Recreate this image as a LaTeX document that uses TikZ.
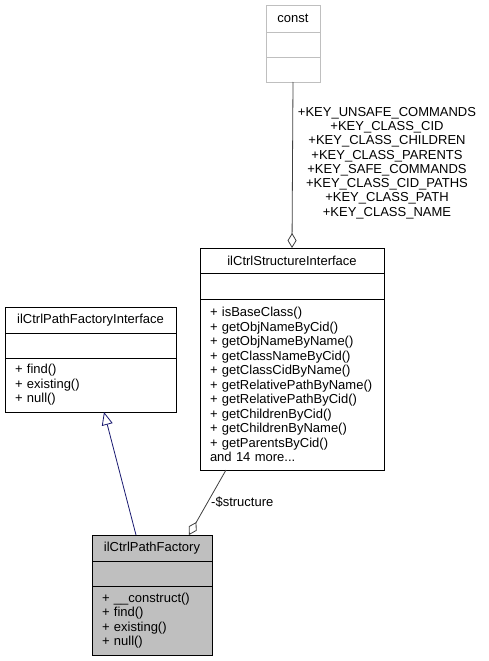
\documentclass[tikz,border=0pt]{standalone}
\usepackage{fontspec}
\setmainfont{Liberation Sans}
\usetikzlibrary{arrows.meta}
\definecolor{edgegray}{HTML}{404040}
\definecolor{boxgray}{HTML}{BFBFBF}
\definecolor{inhblue}{HTML}{191970}
\begin{document}
\begin{tikzpicture}[x=1pt,y=-1pt,
  every node/.style={font=\fontsize{13}{14.5}\selectfont, inner sep=0pt},
  comp/.style={draw, line width=0.8pt, anchor=north west, minimum width=#1, outer sep=0pt},
  ttl/.style={align=center},
  mem/.style={align=left, inner xsep=10pt, text width=#1},
  agg/.style={draw=edgegray, line width=0.8pt, -{Diamond[open,length=15pt,width=9pt]}},
  inh/.style={draw=inhblue, line width=0.8pt, -{Triangle[open,length=13pt,width=11pt]}},
  lbl/.style={align=center, fill=none}
]
\useasboundingbox (0,0) rectangle (488,661);
% const
\node[comp=54pt, draw=boxgray, minimum height=27pt] (cT) at (266,5) {const};
\node[comp=54pt, draw=boxgray, minimum height=25pt] (cA) at (266,32) {};
\node[comp=54pt, draw=boxgray, minimum height=25pt] (cM) at (266,57) {};
% ilCtrlStructureInterface
\node[comp=184pt, minimum height=25pt] (sT) at (200,248) {ilCtrlStructureInterface};
\node[comp=184pt, minimum height=26pt] (sA) at (200,273) {};
\node[comp=184pt, minimum height=171pt, mem=164pt] (sM) at (200,299) {+ isBaseClass()\\+ getObjNameByCid()\\+ getObjNameByName()\\+ getClassNameByCid()\\+ getClassCidByName()\\+ getRelativePathByName()\\+ getRelativePathByCid()\\+ getChildrenByCid()\\+ getChildrenByName()\\+ getParentsByCid()\\and 14 more...};
% ilCtrlPathFactoryInterface
\node[comp=171pt, minimum height=26pt] (pfiT) at (5,307) {ilCtrlPathFactoryInterface};
\node[comp=171pt, minimum height=25pt] (pfiA) at (5,333) {};
\node[comp=171pt, minimum height=54pt, mem=151pt] (pfiM) at (5,358) {+ find()\\+ existing()\\+ null()};
% ilCtrlPathFactory
\node[comp=120pt, fill=boxgray, minimum height=26pt] (pfT) at (92,535) {ilCtrlPathFactory};
\node[comp=120pt, fill=boxgray, minimum height=25pt] (pfA) at (92,561) {};
\node[comp=120pt, fill=boxgray, minimum height=69pt, mem=100pt] (pfM) at (92,586) {+ \_\_construct()\\+ find()\\+ existing()\\+ null()};
% edges
\draw[agg] (cM.south) -- (sT.north);
\node[lbl, font=\fontsize{13}{14.3}\selectfont] (constlbl) at (387,163) {+KEY\_UNSAFE\_COMMANDS\\+KEY\_CLASS\_CID\\+KEY\_CLASS\_CHILDREN\\+KEY\_CLASS\_PARENTS\\+KEY\_SAFE\_COMMANDS\\+KEY\_CLASS\_CID\_PATHS\\+KEY\_CLASS\_PATH\\+KEY\_CLASS\_NAME};
\draw[agg] ([xshift=26pt]sM.south west) -- ([xshift=97pt]pfT.north west);
\node[anchor=west] (structlbl) at (211,502) {-\$structure};
\draw[inh] ([xshift=44pt]pfT.north west) -- ([xshift=99pt]pfiM.south west);
\end{tikzpicture}
\end{document}
